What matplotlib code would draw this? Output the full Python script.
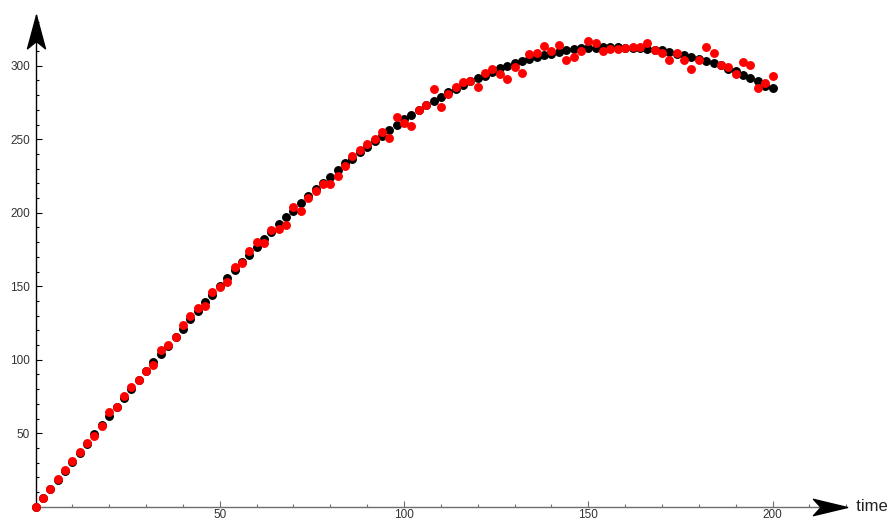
import numpy as np
import matplotlib
matplotlib.use("Agg")
import matplotlib.pyplot as plt
from matplotlib.path import Path
from matplotlib.ticker import MultipleLocator

plt.rcParams['font.family'] = ['Liberation Sans', 'DejaVu Sans']

# sample times 0, 2, ..., 200
time = list(range(0, 201, 2))

# model values (black)
model = [0, 6.1, 12.2, 18.4, 24.5, 30.6, 36.7, 42.8, 49.5, 55.8,
         61.7, 67.5, 73.9, 79.9, 86.0, 92.0, 98.2, 103.9, 109.6, 115.3,
         121.0, 127.5, 133.1, 139.0, 144.2, 150.0, 155.6, 161.0, 166.3, 171.2,
         176.7, 181.9, 186.9, 192.1, 196.9, 201.4, 206.4, 211.4, 216.0, 220.3,
         224.5,
         229.1, 233.6, 236.5, 241.1, 244.7, 248.6, 252.4, 256.3, 259.9, 263.5,
         266.7, 270.0, 273.0, 275.8, 278.7, 282.1, 284.2, 286.9, 289.4, 291.6,
         293.2, 295.4, 298.2, 299.6, 301.6, 303.2, 304.4, 305.7, 307.3, 307.8,
         309.5, 310.5, 311.2, 311.8, 312.0, 312.2, 312.7, 312.7, 312.5, 312.2,
         312.0, 311.9, 311.6, 310.9, 310.5, 309.5, 308.2, 307.5, 306.1, 304.8,
         303.2, 301.6, 300.3, 298.0, 296.4, 293.9, 291.8, 289.6, 286.4, 284.6]

# measured values (red)
measured = [0, 6.1, 12.2, 18.6, 25.0, 30.9, 37.2, 43.1, 48.1, 54.9,
            64.4, 68.0, 75.3, 81.2, 86.2, 92.3, 96.6, 106.6, 109.8, 115.4,
            123.4, 129.7, 135.4, 136.7, 145.9, 149.7, 153.1, 163.3, 165.8, 174.2,
            180.1, 179.4, 188.2, 188.7, 191.6, 203.9, 201.4, 210.2, 215.0, 219.8,
            219.5,
            225.2, 231.8, 238.4, 242.7, 246.9, 250.3, 254.7, 251.0, 265.3, 260.8,
            259.2, 269.7, 273.5, 284.2, 271.9, 281.0, 285.7, 289.1, 289.8, 285.3,
            294.8, 297.7, 294.3, 291.2, 299.1, 295.0, 308.2, 308.6, 313.4, 310.2,
            313.9, 303.7, 305.9, 309.8, 317.0, 315.6, 310.0, 311.2, 311.6, 312.0,
            312.5, 312.5, 315.6, 310.7, 308.8, 304.1, 308.4, 304.1, 297.8, 304.1,
            312.7, 308.6, 300.3, 299.3, 294.4, 302.7, 300.3, 285.0, 288.2, 293.2]

W, H = 890, 520
fig = plt.figure(figsize=(W / 100, H / 100), dpi=100)
# origin at (35.5, 506.7) px, arrow tips at x=847 px and y=15 px
ax = fig.add_axes([35.5 / W, (H - 506.7) / H, (847 - 35.5) / W, (506.7 - 15) / H])
ax.set_xlim(0, 220.2)
ax.set_ylim(0, 334.5)

ax.plot(time, model, 'o', color='black', markersize=5.4, zorder=3, clip_on=False)
ax.plot(time, measured, 'o', color='red', markersize=5.4, zorder=4, clip_on=False)

for side in ['top', 'right']:
    ax.spines[side].set_visible(False)
ax.spines['bottom'].set_color('#6e6e6e')
ax.spines['bottom'].set_linewidth(1.0)
ax.spines['left'].set_color('black')
ax.spines['left'].set_linewidth(1.0)

ax.xaxis.set_major_locator(MultipleLocator(50))
ax.xaxis.set_minor_locator(MultipleLocator(10))
ax.yaxis.set_major_locator(MultipleLocator(50))
ax.yaxis.set_minor_locator(MultipleLocator(10))
ax.set_xticks([50, 100, 150, 200])
ax.set_yticks([50, 100, 150, 200, 250, 300])
ax.tick_params(axis='x', which='major', direction='in', length=4, width=0.8,
               color='#6e6e6e', labelsize=8.5, labelcolor='#333333', pad=2)
ax.tick_params(axis='x', which='minor', direction='in', length=2.5, width=0.8, color='#6e6e6e')
ax.tick_params(axis='y', which='major', direction='in', length=4, width=0.8,
               color='black', labelsize=8.5, labelcolor='#333333', pad=4)
ax.tick_params(axis='y', which='minor', direction='in', length=2.5, width=0.8, color='black')

# notched arrow heads at the ends of the axes
head = Path([(0, 0), (-1, 0.24), (-0.78, 0), (-1, -0.24), (0, 0)],
            [Path.MOVETO, Path.LINETO, Path.LINETO, Path.LINETO, Path.CLOSEPOLY])
ax.plot([1], [0], transform=ax.transAxes, marker=head, markersize=49,
        color='black', clip_on=False, zorder=5)
head_up = Path([(0, 0), (0.27, -1), (0, -0.78), (-0.27, -1), (0, 0)],
               [Path.MOVETO, Path.LINETO, Path.LINETO, Path.LINETO, Path.CLOSEPOLY])
ax.plot([0], [1], transform=ax.transAxes, marker=head_up, markersize=48,
        color='black', clip_on=False, zorder=5)

ax.text(1.0, 0, '  time', transform=ax.transAxes, fontsize=12,
        ha='left', va='center', color='#222222')

fig.savefig('out.png', dpi=100)
